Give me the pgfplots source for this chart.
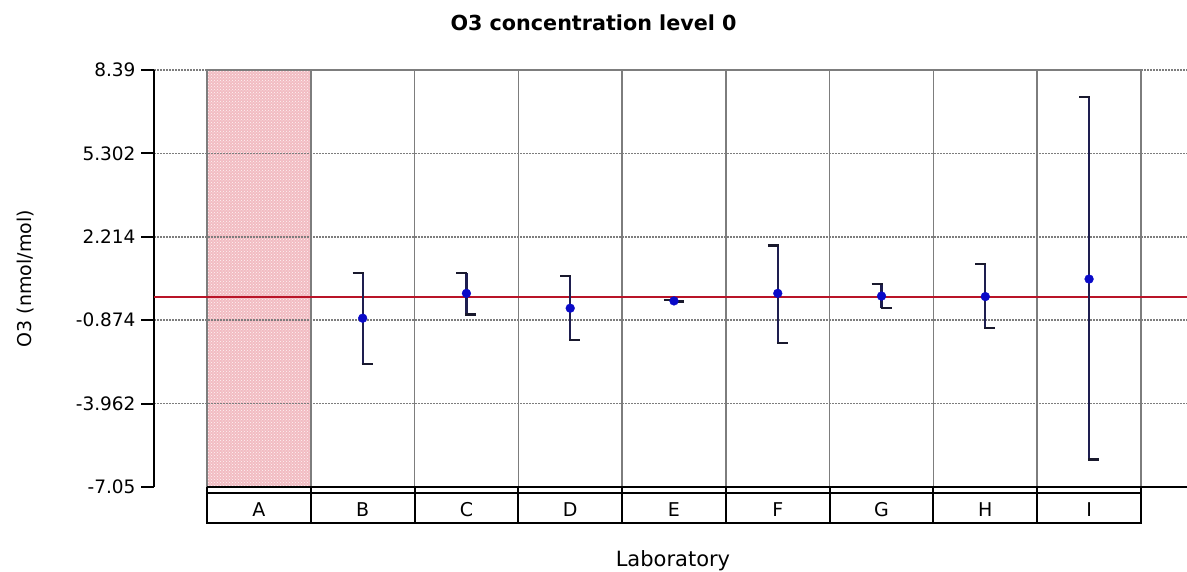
\documentclass[border=0pt]{standalone}
\usepackage{fontspec}
\setmainfont{DejaVu Sans}
\usepackage{pgfplots}
\pgfplotsset{compat=1.18}
\usepackage{pgfplotstable}
\usetikzlibrary{patterns}
\definecolor{pinkA}{RGB}{242,188,194}
\definecolor{redline}{RGB}{185,20,40}
\definecolor{navy}{RGB}{30,30,80}
\definecolor{capc}{RGB}{25,25,45}
\definecolor{ptblue}{RGB}{10,10,200}
\definecolor{gridgray}{RGB}{125,125,125}

\pgfdeclareplotmark{capL}{\pgfpathmoveto{\pgfqpoint{-10pt}{0pt}}\pgfpathlineto{\pgfqpoint{1pt}{0pt}}\pgfusepathqstroke}
\pgfdeclareplotmark{capR}{\pgfpathmoveto{\pgfqpoint{-1pt}{0pt}}\pgfpathlineto{\pgfqpoint{10pt}{0pt}}\pgfusepathqstroke}

\pgfplotstableread{
x y top bot
1 -0.80 0.885 -2.50
2 0.12 0.885 -0.66
3 -0.43 0.76 -1.61
4 -0.16 -0.14 -0.18
5 0.12 1.89 -1.73
6 0.02 0.46 -0.43
7 0.00 1.22 -1.16
8 0.65 7.40 -6.03
}\labdata

\begin{document}
\begin{tikzpicture}
\begin{axis}[
  set layers=standard,
  at={(154pt,84pt)}, anchor=south west,
  scale only axis, width=1033pt, height=417pt,
  xmin=-1.0107, xmax=8.9433, ymin=-7.05, ymax=8.39,
  axis y line*=left, axis x line*=bottom,
  x axis line style={draw=none},
  y axis line style={black, line width=2pt, -},
  xtick={0,1,2,3,4,5,6,7,8},
  xticklabels={A,B,C,D,E,F,G,H,I},
  xtick style={draw=none},
  minor xtick={-0.5,0.5,1.5,2.5,3.5,4.5,5.5,6.5,7.5,8.5},
  xminorgrids,
  minor grid style={gridgray, line width=1.6pt},
  ytick={-3.962,-0.874,2.214,5.302,8.39},
  yticklabels={-3.962,-0.874,2.214,5.302,8.39},
  extra y ticks={-7.05},
  extra y tick labels={-7.05},
  extra y tick style={grid=none},
  ymajorgrids,
  major grid style={gridgray, line width=1.5pt, dash pattern=on 1.5pt off 1.5pt},
  tick align=outside, major tick length=13pt, minor tick length=0pt,
  ytick style={black, line width=2pt},
  yticklabel style={font=\fontsize{18.5}{20}\selectfont, xshift=-2pt},
  xticklabel style={font=\fontsize{19}{20}\selectfont, anchor=center, yshift=-10pt},
  ylabel={O3 (nmol/mol)},
  every axis y label/.style={at={(axis description cs:-0.1239,0.5)}, rotate=90, anchor=center, font=\fontsize{19}{20}\selectfont},
  xlabel={Laboratory},
  every axis x label/.style={at={(axis description cs:0.5024,-0.1911)}, anchor=base, font=\fontsize{21}{22}\selectfont},
  title={O3 concentration level 0},
  every axis title/.style={at={(axis description cs:0.4255,1.0935)}, anchor=base, font=\bfseries\fontsize{20.7}{22}\selectfont},
  clip=false,
]
\addplot[on layer=axis background, draw=gridgray, line width=1.6pt, fill=pinkA,
  postaction={pattern=crosshatch dots, pattern color=white!85!pinkA}]
  coordinates {(-0.5,-7.05) (-0.5,8.39) (0.5,8.39) (0.5,-7.05) (-0.5,-7.05)};
\draw[gridgray, line width=1.6pt] (axis cs:-0.5,8.39) -- (axis cs:8.5,8.39);
\draw[black, line width=2pt] (axis cs:-0.5,-7.05) -- (axis cs:8.9433,-7.05);
\addplot[redline, line width=2pt] coordinates {(-1.0107,0) (8.9433,0)};
\addplot[draw=none, mark=none, error bars/.cd, y dir=both, y explicit, error mark=none,
  error bar style={navy, line width=2.2pt}]
  table[x=x, y=y, y error plus expr=\thisrow{top}-\thisrow{y}, y error minus expr=\thisrow{y}-\thisrow{bot}] {\labdata};
\addplot[only marks, mark=capL, mark options={capc, line width=2.2pt}] table[x=x, y=top] {\labdata};
\addplot[only marks, mark=capR, mark options={capc, line width=2.2pt}] table[x=x, y=bot] {\labdata};
\addplot[only marks, mark=*, mark size=4.4pt, ptblue] table[x=x, y=y] {\labdata};
\end{axis}
\draw[black, line width=2pt] (207pt,78pt) rectangle (1141pt,48pt);
\foreach \k in {1,...,8}{
  \pgfmathsetmacro\xx{207+103.778*\k}
  \draw[black, line width=2pt] (\xx pt,48pt) -- (\xx pt,84pt);
}
\draw[black, line width=2pt] (207pt,48pt) -- (207pt,84pt);
\draw[black, line width=2pt] (1141pt,48pt) -- (1141pt,84pt);
\pgfresetboundingbox
\path (0pt,0pt) rectangle (1187pt,571pt);
\end{tikzpicture}
\end{document}
